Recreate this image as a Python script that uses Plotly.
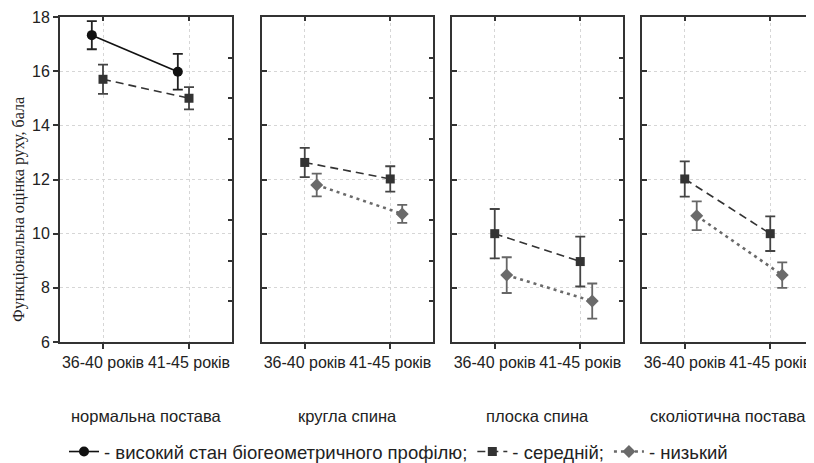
import plotly.graph_objects as go

categories = ["36-40 років", "41-45 років"]
panels = ["нормальна постава", "кругла спина", "плоска спина", "сколіотична постава"]

# high level (only normal posture)
high_mean = {"нормальна постава": [17.33, 15.98]}
high_err = {"нормальна постава": [0.52, 0.66]}

# medium level
mid_mean = {
    "нормальна постава": [15.70, 15.00],
    "кругла спина": [12.63, 12.02],
    "плоска спина": [10.00, 8.97],
    "сколіотична постава": [12.02, 10.00],
}
mid_err = {
    "нормальна постава": [0.54, 0.41],
    "кругла спина": [0.54, 0.47],
    "плоска спина": [0.91, 0.92],
    "сколіотична постава": [0.65, 0.64],
}

# low level
low_mean = {
    "кругла спина": [11.80, 10.73],
    "плоска спина": [8.47, 7.51],
    "сколіотична постава": [10.66, 8.47],
}
low_err = {
    "кругла спина": [0.42, 0.33],
    "плоска спина": [0.66, 0.65],
    "сколіотична постава": [0.53, 0.47],
}

legend_names = ["- високий стан біогеометричного профілю;", "- середній;", "- низький"]
y_ticks = [6, 8, 10, 12, 14, 16, 18]
y_right_ticks = [7.5, 9, 10.5, 12, 13.5, 15, 16.5]

# page body has an 8px margin: size the figure to the visible area
OFF = 8
W, H = 814 - OFF, 463 - OFF
ML, MR, MT = 60 - OFF, 1, 17 - OFF
PW = W - ML - MR
PH = 325
MB = H - MT - PH
panel_px = [(60, 232), (262, 433), (452, 623), (642, 813)]  # window pixels
domains = [[(a - 60) / PW, (b - 60) / PW] for a, b in panel_px]

FONT = "Liberation Sans, Arial, sans-serif"
styles = [
    dict(color="#111111", dash="solid", symbol="circle", size=10, width=1.6, ecol="#222222", off=-0.13),
    dict(color="#333333", dash="8px,5px", symbol="square", size=9, width=1.6, ecol="#444444", off=0.0),
    dict(color="#6a6a6a", dash="3px,4px", symbol="diamond", size=10, width=2.6, ecol="#666666", off=0.14),
]
series = [(high_mean, high_err), (mid_mean, mid_err), (low_mean, low_err)]

fig = go.Figure()
shown = [False, False, False]
for si, (means, errs) in enumerate(series):
    st = styles[si]
    for pi, p in enumerate(panels):
        if p not in means:
            continue
        xs = [i + st["off"] for i in range(len(categories))]
        fig.add_trace(go.Scatter(
            x=xs, y=means[p],
            mode="lines+markers",
            name=legend_names[si],
            legendgroup=str(si),
            showlegend=not shown[si],
            line=dict(color=st["color"], dash=st["dash"], width=st["width"]),
            marker=dict(symbol=st["symbol"], size=st["size"], color=st["color"]),
            error_y=dict(type="data", array=errs[p], visible=True,
                         color=st["ecol"], thickness=1.8, width=5),
            xaxis="x" if pi == 0 else f"x{pi+1}",
            yaxis="y" if pi == 0 else f"y{pi+1}",
        ))
        shown[si] = True

# empty traces for overlay axes (top / right frames)
for pi in range(4):
    fig.add_trace(go.Scatter(x=[], y=[], xaxis=f"x{pi+5}", yaxis=f"y{pi+5}",
                             showlegend=False, hoverinfo="skip"))

GRID = "#d6d6d6"
layout = dict(
    width=W, height=H,
    margin=dict(l=ML, r=MR, t=MT, b=MB, autoexpand=False),
    paper_bgcolor="white", plot_bgcolor="white",
    font=dict(family=FONT, color="#222222", size=16),
    showlegend=True,
    legend=dict(orientation="h", x=(64 - 60) / PW, xanchor="left",
                yref="container", y=(463 - 452) / H, yanchor="middle",
                font=dict(family=FONT, size=18.5, color="#222222"),
                itemwidth=30, tracegroupgap=0, bgcolor="rgba(0,0,0,0)"),
)
for pi in range(4):
    xn = "xaxis" if pi == 0 else f"xaxis{pi+1}"
    yn = "yaxis" if pi == 0 else f"yaxis{pi+1}"
    yid = "y" if pi == 0 else f"y{pi+1}"
    xid = "x" if pi == 0 else f"x{pi+1}"
    layout[xn] = dict(domain=domains[pi], anchor=yid, range=[-0.5, 1.5],
                      tickvals=[0, 1], ticktext=categories, ticks="outside", ticklen=5,
                      tickcolor="#333333", tickwidth=1.5,
                      showline=True, linecolor="#333333", linewidth=1.8,
                      showgrid=True, gridcolor=GRID, griddash="dot", gridwidth=1,
                      zeroline=False, fixedrange=True,
                      tickfont=dict(family=FONT, size=16, color="#222222"))
    layout[yn] = dict(domain=[0, 1], anchor=xid, range=[6, 18], tickvals=y_ticks,
                      ticks="outside" if pi == 0 else "inside", ticklen=5,
                      tickcolor="#333333", tickwidth=1.5,
                      showticklabels=(pi == 0),
                      showline=True, linecolor="#333333", linewidth=1.8,
                      showgrid=True, gridcolor=GRID, griddash="dot", gridwidth=1,
                      zeroline=False, fixedrange=True,
                      tickfont=dict(family=FONT, size=16, color="#222222"))
    layout[f"xaxis{pi+5}"] = dict(overlaying=xid, side="top", anchor=f"y{pi+5}",
                                  range=[-0.5, 1.5], tickvals=[0, 1], ticks="inside",
                                  ticklen=4, tickcolor="#333333", tickwidth=1.5,
                                  showticklabels=False, showline=True,
                                  linecolor="#333333", linewidth=1.8,
                                  showgrid=False, zeroline=False, fixedrange=True)
    layout[f"yaxis{pi+5}"] = dict(overlaying=yid, side="right", anchor=f"x{pi+5}",
                                  range=[6, 18], tickvals=y_right_ticks, ticks="inside",
                                  ticklen=4, tickcolor="#333333", tickwidth=1.5,
                                  showticklabels=False, showline=True,
                                  linecolor="#333333", linewidth=1.8,
                                  showgrid=False, zeroline=False, fixedrange=True)

fig.update_layout(**layout)

# panel titles
for pi, p in enumerate(panels):
    cx = (sum(domains[pi]) / 2)
    fig.add_annotation(text=p, xref="paper", yref="paper", x=cx, y=-(416 - 342) / PH,
                       xanchor="center", yanchor="middle", showarrow=False,
                       font=dict(family=FONT, size=16.5, color="#222222"))

# y title
fig.add_annotation(text="Функціональна оцінка руху, бала", xref="paper", yref="paper",
                   x=(19 - 60) / PW, y=(342 - 210) / PH, textangle=-90,
                   xanchor="center", yanchor="middle", showarrow=False,
                   font=dict(family="Liberation Serif, Times New Roman, serif", size=16, color="#222222"))

fig.write_html("out.html")
